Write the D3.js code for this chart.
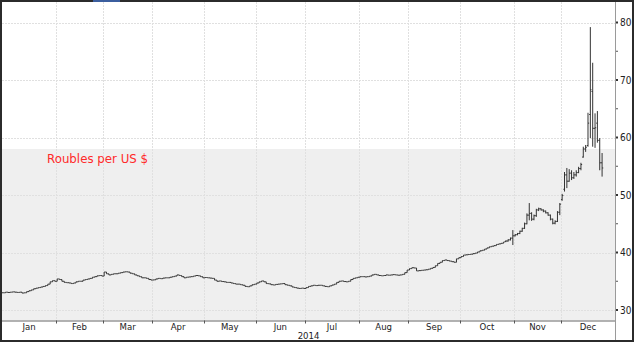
<!DOCTYPE html>
<html><head><meta charset="utf-8">
<script src="https://cdn.jsdelivr.net/npm/d3@7"></script>
<style>html,body{margin:0;padding:0;background:#fff;}svg{display:block;}</style>
</head><body><svg id="c" width="634" height="342"></svg>
<script>
// ---- data ----
const year = 2014;
const monthLabels = ["Jan","Feb","Mar","Apr","May","Jun","Jul","Aug","Sep","Oct","Nov","Dec"];
const yearLabel = "2014";
const yTicks = [30,40,50,60,70,80];
const yMinorTicks = [35,45,55,65,75];
const titleText = "Roubles per US $";
const shadeFrom = 58; // shaded band below this level

// daily closes, trading days from Jan 1 (index 0..213)
const earlyClose = [
 33.0,33.1,33.05,33.1,33.15,33.1,33.05,33.1,32.95,33.0,
 33.2,33.35,33.5,33.7,33.8,33.9,34.0,34.1,34.25,34.5,
 34.9,35.1,35.0,35.4,35.3,35.0,34.8,34.75,34.7,34.6,
 34.7,34.9,35.0,35.0,35.2,35.3,35.4,35.5,35.7,35.8,
 35.95,36.0,35.9,36.6,36.3,36.1,36.2,36.3,36.3,36.4,
 36.5,36.6,36.65,36.6,36.4,36.3,36.1,35.95,35.8,35.6,
 35.6,35.5,35.3,35.2,35.25,35.4,35.5,35.45,35.55,35.6,
 35.6,35.7,35.8,35.9,36.1,36.0,35.8,35.6,35.7,35.75,
 35.8,35.9,36.0,35.95,35.8,35.6,35.65,35.6,35.55,35.5,
 35.2,35.0,35.05,34.95,34.9,34.8,34.8,34.7,34.6,34.5,
 34.5,34.4,34.3,34.1,34.05,34.2,34.4,34.5,34.7,34.9,
 35.05,34.9,34.6,34.55,34.4,34.35,34.45,34.5,34.55,34.6,
 34.4,34.3,34.2,34.0,33.9,33.8,33.75,33.8,33.75,33.9,
 34.1,34.2,34.3,34.25,34.3,34.3,34.2,34.1,34.05,34.2,
 34.35,34.5,34.8,35.0,35.05,34.95,34.9,35.0,35.3,35.5,
 35.6,35.7,35.8,35.8,35.75,35.8,35.9,36.1,36.2,36.1,
 36.0,35.95,36.0,36.1,36.05,36.1,36.15,36.1,36.05,36.1,
 36.2,36.5,36.95,37.2,37.35,37.3,36.8,36.85,36.9,36.95,
 37.0,37.1,37.25,37.4,37.7,38.1,38.3,38.6,38.7,38.6,
 38.5,38.4,38.3,38.9,39.1,39.3,39.55,39.6,39.65,39.7,
 39.8,39.9,40.1,40.3,40.4,40.6,40.8,41.0,41.1,41.2,
 41.4,41.5,41.6,41.8
];
// OHLC bars from trading-day index 214 to 255
const tailOpen  = [41.9,42.0,42.2,42.5,42.9,43.1,43.3,43.7,44.2,45.0,46.5,46.8,45.8,46.4,47.4,47.6,47.4,47.2,46.9,46.5,45.8,45.1,45.4,47.0,49.2,51.0,53.5,52.4,53.8,53.0,53.5,53.9,54.6,56.6,58.0,58.6,64.0,68.0,61.6,62.5,59.5,55.6];
const tailHigh  = [42.1,42.3,42.6,43.9,43.2,43.4,43.8,44.3,45.2,46.8,48.6,47.0,46.6,47.6,47.8,47.7,47.5,47.3,47.0,46.6,45.9,45.6,47.2,48.6,50.2,54.0,54.7,54.5,54.3,54.0,54.3,54.9,55.6,58.4,58.7,64.3,79.2,73.0,64.2,64.6,59.9,57.3];
const tailLow   = [41.8,41.9,42.1,41.3,42.8,43.0,43.2,43.6,44.1,44.9,45.6,45.5,45.6,46.2,47.2,47.3,47.0,46.8,46.4,45.6,44.9,44.9,45.3,46.5,49.0,50.6,51.2,52.3,52.6,52.8,53.2,53.8,54.3,56.5,57.5,58.4,59.9,58.4,58.2,59.1,54.3,53.2];
const tailClose = [42.0,42.2,42.5,42.9,43.1,43.3,43.7,44.2,45.0,46.5,46.8,45.8,46.4,47.4,47.6,47.4,47.2,46.9,46.5,45.8,45.1,45.4,47.0,48.4,49.9,53.5,52.4,53.8,53.0,53.5,53.9,54.6,55.3,58.0,58.3,62.5,68.3,61.6,61.7,59.5,55.6,54.7];

// ---- build ----
const tradingDays = d3.timeDay.range(new Date(year,0,1), new Date(year+1,0,1)).filter(d => d.getDay()!==0 && d.getDay()!==6);
const N = tradingDays.length;
const bars = [];
earlyClose.forEach((c,i) => {
  const o = i===0 ? c : earlyClose[i-1];
  bars.push({i, o, h:Math.max(o,c), l:Math.min(o,c), c});
});
tailClose.forEach((c,k) => bars.push({i: earlyClose.length+k, o: tailOpen[k], h: tailHigh[k], l: tailLow[k], c}));

const svg = d3.select("#c");
const L = 2, R = 615, T = 2, B = 320.5;
const x = d3.scaleLinear().domain([0, N]).range([L, R]);
const y = d3.scaleLinear().domain([30, 80]).range([310, 22.5]);

// background
svg.append("rect").attr("x",0).attr("y",0).attr("width",634).attr("height",342).attr("fill","#fff");
svg.append("rect").attr("x",L).attr("y",Math.round(y(shadeFrom))).attr("width",R-L).attr("height",B-Math.round(y(shadeFrom))).attr("fill","#efefef");

// month boundaries
const monthStarts = d3.range(12).map(m => tradingDays.findIndex(d => d.getMonth()===m));
const grid = svg.append("g").attr("stroke","#e0e0e0").attr("stroke-width",1).attr("stroke-dasharray","2,1").attr("shape-rendering","crispEdges");
monthStarts.slice(1).forEach(idx => {
  grid.append("line").attr("x1",Math.round(x(idx))+0.5).attr("x2",Math.round(x(idx))+0.5).attr("y1",T).attr("y2",B);
});
yTicks.forEach(v => {
  grid.append("line").attr("x1",L).attr("x2",R).attr("y1",Math.round(y(v))+0.5).attr("y2",Math.round(y(v))+0.5);
});

// bars
let p = "";
const w = (x(1)-x(0))/2;
bars.forEach(b => {
  const cx = x(b.i+0.5);
  p += `M${cx},${y(b.h)}V${y(b.l)}M${cx-w},${y(b.o)}H${cx}M${cx},${y(b.c)}H${cx+w}`;
});
svg.append("path").attr("d",p).attr("fill","none").attr("stroke","#333").attr("stroke-width",1);

// title
svg.append("text").attr("x",47).attr("y",163).attr("fill","#ff2a2a")
  .attr("font-family","'DejaVu Sans', sans-serif").attr("font-size","11.8px").text(titleText);

// right axis
svg.append("rect").attr("x",R).attr("y",0).attr("width",634-R).attr("height",342).attr("fill","#fff");
svg.append("line").attr("x1",R+0.5).attr("x2",R+0.5).attr("y1",0).attr("y2",342).attr("stroke","#9a9a9a");
const ax = svg.append("g").attr("font-family","'DejaVu Sans Condensed','DejaVu Sans',sans-serif").attr("font-size","10px").attr("fill","#222");
yTicks.forEach(v => {
  svg.append("rect").attr("x",R+1).attr("y",y(v)-1).attr("width",2).attr("height",2).attr("fill","#333");
  ax.append("text").attr("x",R+5).attr("y",y(v)).attr("dy","0.35em").text(v);
});
yMinorTicks.forEach(v => {
  svg.append("rect").attr("x",R+1).attr("y",y(v)-0.5).attr("width",2).attr("height",1).attr("fill","#555");
});

// bottom axis
svg.append("rect").attr("x",L).attr("y",B).attr("width",R-L).attr("height",342-B).attr("fill","#fff");
svg.append("line").attr("x1",L).attr("x2",R).attr("y1",B+0.5).attr("y2",B+0.5).attr("stroke","#666");
const xa = svg.append("g").attr("font-family","'DejaVu Sans Condensed','DejaVu Sans',sans-serif").attr("font-size","9.5px").attr("fill","#222").attr("text-anchor","middle");
monthStarts.forEach((idx,m) => {
  const end = m<11 ? monthStarts[m+1] : N;
  if (m>0) svg.append("line").attr("x1",Math.round(x(idx))+0.5).attr("x2",Math.round(x(idx))+0.5).attr("y1",B).attr("y2",B+3).attr("stroke","#555");
  xa.append("text").attr("x",(x(idx)+x(end))/2).attr("y",329.5).text(monthLabels[m]);
});
xa.append("text").attr("x",(x(0)+x(N))/2).attr("y",338.5).text(yearLabel);

// frame
const fr = svg.append("g").attr("fill","#2b2b2b");
fr.append("rect").attr("x",0).attr("y",0).attr("width",634).attr("height",2);
fr.append("rect").attr("x",0).attr("y",340).attr("width",634).attr("height",2);
fr.append("rect").attr("x",0).attr("y",0).attr("width",2).attr("height",342);
fr.append("rect").attr("x",632).attr("y",0).attr("width",2).attr("height",342);
svg.append("rect").attr("x",93).attr("y",0).attr("width",27).attr("height",2).attr("fill","#3b5e9e");
</script></body></html>
